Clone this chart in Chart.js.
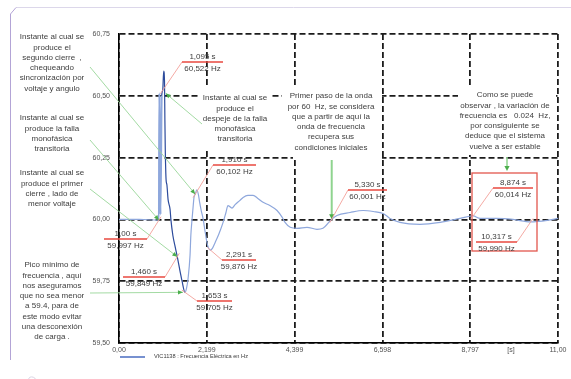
<!DOCTYPE html>
<html>
<head>
<meta charset="utf-8">
<script src="https://cdn.jsdelivr.net/npm/chart.js@4/dist/chart.umd.min.js"></script>
<style>
  html, body { margin: 0; padding: 0; background: #fff; }
  canvas { display: block; }
</style>
</head>
<body>
<canvas id="grafico" width="571" height="379"></canvas>
<script>
// Frecuencia eléctrica registrada en VIC1138 (s, Hz)
const tiempo = [
  0.00, 0.50, 1.000, 1.010, 1.040, 1.070, 1.095, 1.120, 1.140, 1.150,
  1.160, 1.180, 1.200, 1.230, 1.280, 1.300, 1.350, 1.400, 1.460, 1.530,
  1.580, 1.653, 1.690, 1.730, 1.780, 1.800, 1.830, 1.860, 1.880, 1.910,
  1.950, 1.990, 2.020, 2.060, 2.110, 2.160, 2.220, 2.291, 2.340, 2.410,
  2.500, 2.600, 2.680, 2.730, 2.830, 2.910, 3.030, 3.110, 3.230, 3.360,
  3.480, 3.610, 3.780, 3.960, 4.090, 4.160, 4.290, 4.460, 4.710, 4.960,
  5.110, 5.330, 5.460, 5.790, 6.120, 6.370, 6.620, 6.790, 7.040, 7.540,
  8.050, 8.550, 8.874, 9.050, 9.470, 9.870, 10.317, 10.730, 11.000
];
const frecuencia = [
  60.000, 60.000, 59.997, 60.510, 60.020, 60.500, 60.522, 60.600, 60.560, 60.400,
  60.280, 60.160, 60.140, 60.080, 60.040, 60.000, 59.935, 59.895, 59.849, 59.790,
  59.750, 59.705, 59.720, 59.760, 59.855, 59.935, 60.000, 60.056, 60.090, 60.102,
  60.120, 60.100, 60.070, 60.036, 60.000, 59.948, 59.895, 59.876, 59.883, 59.907,
  59.940, 59.984, 60.028, 60.056, 60.046, 60.060, 60.077, 60.089, 60.097, 60.097,
  60.085, 60.069, 60.056, 60.036, 60.008, 59.988, 59.968, 59.964, 59.968, 59.960,
  59.964, 60.001, 60.016, 60.028, 60.036, 60.032, 60.024, 60.004, 59.988, 59.980,
  59.988, 60.004, 60.014, 60.004, 60.004, 60.000, 59.990, 59.996, 60.004
];

// Ejes
const ticksX = [0, 2.2, 4.4, 6.6, 8.8, 11];
const etiquetasX = ['0,00', '2,199', '4,399', '6,598', '8,797', '11,00'];
const ticksY = [59.50, 59.75, 60.00, 60.25, 60.50, 60.75];
const etiquetasY = ['59,50', '59,75', '60,00', '60,25', '60,50', '60,75'];

// Puntos marcados con tiempo y frecuencia
const marcasT = [1.000, 1.095, 1.460, 1.653, 1.910, 2.291, 5.330, 8.874, 10.317];
const marcasF = [59.997, 60.522, 59.849, 59.705, 60.102, 59.876, 60.001, 60.014, 59.990];
const marcasTexto = ['1,00 s', '1,095 s', '1,460 s', '1,653 s', '1,910 s', '2,291 s', '5,330 s', '8,874 s', '10,317 s'];

const nombreSerie = 'VIC1138 : Frecuencia Eléctrica en Hz';

// Textos explicativos
const notasTexto = [
  ['Instante al cual se', 'produce el', 'segundo cierre  ,', 'chequeando', 'sincronización por', 'voltaje y angulo'],
  ['Instante al cual se', 'produce la falla', 'monofásica', 'transitoria'],
  ['Instante al cual se', 'produce el primer', 'cierre , lado de', 'menor voltaje'],
  ['Pico mínimo de', 'frecuencia , aquí', 'nos aseguramos', 'que no sea menor', 'a 59.4, para de', 'este modo evitar', 'una desconexión', 'de carga .'],
  ['Instante al cual se', 'produce el', 'despeje de la falla', 'monofásica', 'transitoria'],
  ['Primer paso de la onda', 'por 60  Hz, se considera', 'que a partir de aquí la', 'onda de frecuencia', 'recupera sus', 'condiciones iniciales'],
  ['Como se puede', 'observar , la variación de', 'frecuencia es   0.024  Hz,', 'por consiguiente se', 'deduce que el sistema', 'vuelve a ser estable']
];

// ---- disposición de las anotaciones (píxeles) ----
const posNotas = [
  {x: 52, y: 37}, {x: 52, y: 118}, {x: 52, y: 173}, {x: 52, y: 265},
  {x: 235, y: 98}, {x: 331, y: 96}, {x: 505, y: 95}
];
// fondos blancos bajo los textos del área de trazado
const fondos = [
  [200, 87, 70, 63],
  [282, 86, 100, 67],
  [293, 86, 89, 74],
  [458, 86, 98, 69]
];
// subrayado de cada marca: x inicial, x final, y, extremo unido al punto
const posMarcas = [
  {x1: 104, x2: 147, y: 239, lado: 'der'},
  {x1: 182, x2: 223, y: 62, lado: 'izq'},
  {x1: 123, x2: 165, y: 277, lado: 'der'},
  {x1: 197, x2: 232, y: 301, lado: 'izq'},
  {x1: 213, x2: 256, y: 165, lado: 'izq'},
  {x1: 222, x2: 256, y: 260, lado: 'izq'},
  {x1: 348, x2: 387, y: 190, lado: 'izq'},
  {x1: 493, x2: 533, y: 188, lado: 'izq'},
  {x1: 476, x2: 517, y: 242, lado: 'der'}
];
// flechas verdes: origen en píxeles, destino = índice de marca
const flechas = [
  {x: 90, y: 67, marca: 4},
  {x: 90, y: 140, marca: 0},
  {x: 90, y: 189, marca: 2},
  {x: 90, y: 293, marca: 3, dx: -2},
  {x: 202, y: 124, marca: 1, dx: 3, dy: 3}
];

const FUENTE = '"Liberation Sans", Arial, sans-serif';

function punta(ctx, x0, y0, x1, y1, largo, ancho, color) {
  const a = Math.atan2(y1 - y0, x1 - x0);
  ctx.save();
  ctx.fillStyle = color;
  ctx.beginPath();
  ctx.moveTo(x1, y1);
  ctx.lineTo(x1 - largo * Math.cos(a) + ancho * Math.sin(a), y1 - largo * Math.sin(a) - ancho * Math.cos(a));
  ctx.lineTo(x1 - largo * Math.cos(a) - ancho * Math.sin(a), y1 - largo * Math.sin(a) + ancho * Math.cos(a));
  ctx.closePath();
  ctx.fill();
  ctx.restore();
}

const anotaciones = {
  id: 'anotaciones',
  beforeDraw(chart) {
    const ctx = chart.ctx;
    ctx.save();
    // marco del recuadro
    ctx.lineWidth = 1;
    ctx.strokeStyle = '#dcd7ea';
    ctx.beginPath(); ctx.moveTo(16, 7.5); ctx.lineTo(571, 7.5); ctx.stroke();
    ctx.strokeStyle = '#b3a4d6';
    ctx.beginPath(); ctx.moveTo(10.5, 360); ctx.lineTo(10.5, 14); ctx.lineTo(16, 7.5); ctx.stroke();
    ctx.strokeStyle = '#d8d4e4';
    ctx.beginPath(); ctx.arc(32, 381, 4, Math.PI * 1.1, Math.PI * 1.9); ctx.stroke();
    ctx.restore();
  },
  beforeDatasetsDraw(chart) {
    const ctx = chart.ctx;
    ctx.save();
    ctx.fillStyle = '#ffffff';
    fondos.forEach(f => ctx.fillRect(f[0], f[1], f[2], f[3]));
    ctx.restore();
  },
  afterDatasetsDraw(chart) {
    const ctx = chart.ctx;
    const xs = chart.scales.x, ys = chart.scales.y;
    const px = i => xs.getPixelForValue(marcasT[i]);
    const py = i => ys.getPixelForValue(marcasF[i]);
    ctx.save();

    // textos explicativos
    ctx.fillStyle = '#3d3d3d';
    ctx.font = '8px ' + FUENTE;
    ctx.textAlign = 'center';
    ctx.textBaseline = 'middle';
    notasTexto.forEach((lineas, k) => {
      lineas.forEach((l, j) => ctx.fillText(l, posNotas[k].x, posNotas[k].y + j * 10.3));
    });

    // flechas verdes hacia los puntos
    ctx.lineWidth = 0.9;
    ctx.strokeStyle = '#98d698';
    flechas.forEach(f => {
      const tx = px(f.marca) + (f.dx || 0), ty = py(f.marca) + (f.dy || 0);
      ctx.beginPath(); ctx.moveTo(f.x, f.y); ctx.lineTo(tx, ty); ctx.stroke();
      punta(ctx, f.x, f.y, tx, ty, 5, 2.2, '#4cae4c');
    });
    // flecha vertical hacia el cruce por 60 Hz
    ctx.lineWidth = 2;
    ctx.strokeStyle = '#8fd48f';
    const xv = px(6), yv = py(6);
    ctx.beginPath(); ctx.moveTo(xv, 160); ctx.lineTo(xv, yv - 3); ctx.stroke();
    punta(ctx, xv, 160, xv, yv, 5, 2.6, '#4cae4c');
    ctx.lineWidth = 1.5;
    ctx.beginPath(); ctx.moveTo(507, 157); ctx.lineTo(507, 167); ctx.stroke();
    punta(ctx, 507, 157, 507, 171, 5, 2.6, '#4cae4c');

    // recuadro rojo de la zona estable
    ctx.lineWidth = 1.3;
    ctx.strokeStyle = '#e2574d';
    ctx.strokeRect(472, 173, 65, 78);

    // marcas de tiempo y frecuencia
    posMarcas.forEach((m, i) => {
      const x0 = px(i), y0 = py(i);
      const ax = m.lado === 'izq' ? m.x1 : m.x2;
      const d = Math.hypot(x0 - ax, y0 - m.y);
      const ex = x0 + (x0 - ax) / d * 4, ey = y0 + (y0 - m.y) / d * 4;
      ctx.lineWidth = 0.9;
      ctx.strokeStyle = '#f3a09a';
      ctx.beginPath(); ctx.moveTo(ax, m.y); ctx.lineTo(ex, ey); ctx.stroke();
      ctx.lineWidth = 1.4;
      ctx.strokeStyle = '#e8483f';
      ctx.beginPath(); ctx.moveTo(m.x1, m.y); ctx.lineTo(m.x2, m.y); ctx.stroke();
      const cx = (m.x1 + m.x2) / 2;
      ctx.fillStyle = '#3d3d3d';
      ctx.font = '8px ' + FUENTE;
      ctx.fillText(marcasTexto[i], cx, m.y - 5);
      ctx.fillText(marcasF[i].toFixed(3).replace('.', ',') + ' Hz', cx, m.y + 6.5);
    });

    // unidad del eje x
    ctx.fillStyle = '#505050';
    ctx.font = '7px ' + FUENTE;
    ctx.fillText('[s]', 511, 350);

    // leyenda
    ctx.strokeStyle = '#4a6cc0';
    ctx.lineWidth = 1.5;
    ctx.beginPath(); ctx.moveTo(120, 357); ctx.lineTo(145, 357); ctx.stroke();
    ctx.fillStyle = '#3a3a3a';
    ctx.font = '6px ' + FUENTE;
    ctx.textAlign = 'left';
    ctx.fillText(nombreSerie, 154, 356, 94);

    ctx.restore();
  }
};

new Chart(document.getElementById('grafico'), {
  type: 'line',
  data: {
    datasets: [{
      label: nombreSerie,
      data: tiempo.map((t, i) => ({x: t, y: frecuencia[i]})),
      borderWidth: 1.2,
      pointRadius: 0,
      cubicInterpolationMode: 'monotone',
      segment: {
        // tramo de la caída tras el despeje en azul oscuro, resto en azul claro
        borderColor: c => {
          const t = tiempo[c.p1DataIndex];
          return (t > 1.08 && t <= 1.653) ? '#2c4b9c' : '#8ea7dc';
        },
        borderWidth: c => (tiempo[c.p1DataIndex] <= 1.08 && tiempo[c.p1DataIndex] > 1.0) ? 2 : 1.2
      }
    }]
  },
  options: {
    responsive: false,
    animation: false,
    devicePixelRatio: 1,
    layout: {padding: {top: 34, right: 13, left: 0, bottom: 0}},
    plugins: {legend: {display: false}, tooltip: {enabled: false}},
    scales: {
      x: {
        type: 'linear',
        min: 0, max: 11,
        afterBuildTicks: s => { s.ticks = ticksX.map(v => ({value: v})); },
        afterFit: s => { s.height = 36; },
        ticks: {
          callback: (v, i) => etiquetasX[i],
          font: {size: 7, family: FUENTE},
          color: '#505050',
          padding: 3,
          maxRotation: 0,
          autoSkip: false
        },
        grid: {color: '#1c1c1c', lineWidth: 1.8, drawTicks: false},
        border: {display: true, color: '#000', width: 1.5, dash: [6, 3]}
      },
      y: {
        type: 'linear',
        min: 59.5, max: 60.75,
        afterBuildTicks: s => { s.ticks = ticksY.map(v => ({value: v})); },
        afterFit: s => { s.width = 119; },
        ticks: {
          callback: (v, i) => etiquetasY[i],
          font: {size: 7, family: FUENTE},
          color: '#505050',
          padding: 9
        },
        grid: {color: '#1c1c1c', lineWidth: 1.8, drawTicks: false},
        border: {display: true, color: '#000', width: 1.5, dash: [6, 3]}
      }
    }
  },
  plugins: [anotaciones]
});
</script>
</body>
</html>
